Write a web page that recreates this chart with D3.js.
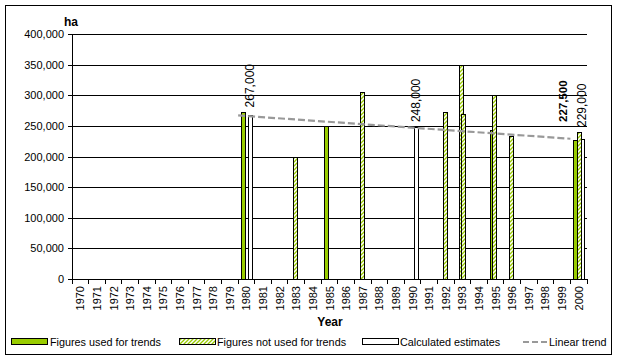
<!DOCTYPE html>
<html><head><meta charset="utf-8">
<script src="https://cdn.jsdelivr.net/npm/d3@7"></script>
<style>
body{margin:0;background:#fff;}
text{font-family:"Liberation Sans",Arial,sans-serif;}
</style></head>
<body><svg id="c" width="618" height="360"></svg>
<script>
const years = d3.range(1970, 2001);
const yTicks = [0,50000,100000,150000,200000,250000,300000,350000,400000];
// Figures used for trends
const usedYears = [1980, 1985, 1995, 2000];
const usedValues = [272000, 250000, 243000, 227500];
// Figures not used for trends (first source)
const notUsedAYears = [1983, 1987, 1992, 1993, 1995, 1996];
const notUsedAValues = [200000, 305000, 272000, 350000, 300000, 233000];
// Figures not used for trends (second source)
const notUsedBYears = [1993, 2000];
const notUsedBValues = [270000, 240000];
// Calculated estimates
const estYears = [1980, 1990, 2000];
const estValues = [267000, 248000, 229000];
// Linear trend
const trendYears = [1980, 2000];
const trendValues = [267000, 229000];
const legendLabels = ["Figures used for trends","Figures not used for trends","Calculated estimates","Linear trend"];

const svg = d3.select("#c");
const L=72, R=587, T=34, B=279;
const green="#99CC00";

const defs = svg.append("defs");
const pat = defs.append("pattern").attr("id","hatch").attr("patternUnits","userSpaceOnUse")
  .attr("width",4).attr("height",4);
pat.append("rect").attr("width",4).attr("height",4).attr("fill","#fff");
pat.append("path").attr("d","M-1,1 l2,-2 M0,4 l4,-4 M3,5 l2,-2").attr("stroke",green).attr("stroke-width",1.3);

svg.append("rect").attr("x",5.5).attr("y",5.5).attr("width",606).attr("height",349)
  .attr("fill","#fff").attr("stroke","#000");

const x = d3.scaleBand().domain(years).range([L,R]).padding(0);
const y = d3.scaleLinear().domain([0,400000]).range([B,T]);
const bw = x.bandwidth();

// gridlines
svg.append("g").attr("transform",`translate(${L},0)`)
  .call(d3.axisLeft(y).tickValues(yTicks).tickSize(-(R-L)).tickFormat(""))
  .call(g=>{g.select(".domain").remove(); g.selectAll("line").attr("stroke","#000").attr("shape-rendering","crispEdges");});

// y axis
svg.append("g").attr("transform",`translate(${L},0)`)
  .call(d3.axisLeft(y).tickValues(yTicks).tickSize(4).tickPadding(4).tickFormat(d3.format(",")))
  .call(g=>{g.select(".domain").attr("shape-rendering","crispEdges");
    g.selectAll("line").attr("shape-rendering","crispEdges");
    g.selectAll("text").attr("font-size",11).attr("font-family","Liberation Sans, Arial").attr("fill","#000");});

// x axis line + ticks at band edges
svg.append("line").attr("x1",L).attr("x2",R).attr("y1",y(0)).attr("y2",y(0)).attr("stroke","#000").attr("shape-rendering","crispEdges");
svg.append("g").selectAll("line").data(years.concat([2001])).join("line")
  .attr("x1",d=>d===2001?R:x(d)).attr("x2",d=>d===2001?R:x(d))
  .attr("y1",y(0)).attr("y2",y(0)+5).attr("stroke","#000").attr("shape-rendering","crispEdges");
svg.append("g").selectAll("text").data(years).join("text")
  .attr("transform",d=>`translate(${x(d)+bw/2+4},${y(0)+7}) rotate(-90)`)
  .attr("text-anchor","end").attr("font-size",11).text(d=>d);

function series(yrs, vals, offFrac, fill){
  svg.append("g").selectAll("rect").data(yrs.map((d,i)=>({yr:d,v:vals[i]}))).join("rect")
    .attr("x",d=>Math.round(x(d.yr)+bw*offFrac)+0.5).attr("width",4)
    .attr("y",d=>Math.round(y(d.v))+0.5).attr("height",d=>Math.round(y(0))-Math.round(y(d.v)))
    .attr("fill",fill).attr("stroke","#000").attr("stroke-width",1);
}
series(estYears, estValues, 0.60, "#fff");
series(usedYears, usedValues, 0.16, green);
series(notUsedAYears, notUsedAValues, 0.31, "url(#hatch)");
series(notUsedBYears, notUsedBValues, 0.40, "url(#hatch)");

// trend line
svg.append("path").datum(trendYears.map((d,i)=>[x(d),y(trendValues[i])]))
  .attr("d",d3.line()).attr("stroke","#999").attr("stroke-width",2.2)
  .attr("stroke-dasharray","7,3").attr("fill","none");

// value labels
function maxAt(yr){
  const all=[[usedYears,usedValues],[notUsedAYears,notUsedAValues],[notUsedBYears,notUsedBValues],[estYears,estValues]];
  let m=0; all.forEach(([ys,vs])=>{const i=ys.indexOf(yr); if(i>=0) m=Math.max(m,vs[i]);}); return m;
}
const fmt=d3.format(",");
svg.append("g").selectAll("text").data(estYears.map((d,i)=>({yr:d,v:estValues[i]}))).join("text")
  .attr("transform",d=>`translate(${x(d.yr)+bw*0.60+2+4},${y(maxAt(d.yr))-5}) rotate(-90)`)
  .attr("font-size",12).text(d=>fmt(d.v));
const lastUsed = usedYears.length-1;
svg.append("text")
  .attr("transform",`translate(${x(usedYears[lastUsed])+bw*0.16+2-12+4},${y(maxAt(usedYears[lastUsed]))-10}) rotate(-90)`)
  .attr("font-size",11.5).attr("font-weight","bold").text(fmt(usedValues[lastUsed]));

// axis titles
svg.append("text").attr("x",64).attr("y",26).attr("font-size",12).attr("font-weight","bold").text("ha");
svg.append("text").attr("x",330).attr("y",326).attr("text-anchor","middle").attr("font-size",12).attr("font-weight","bold").text("Year");

// legend
const lg = svg.append("g");
const ly = 342;
const items = [
  {sx:11, tx:50, kind:"used"},
  {sx:179, tx:217, kind:"notused"},
  {sx:362, tx:400, kind:"est"},
  {sx:523, tx:549, kind:"trend"}
];
items.forEach((it,i)=>{
  if(it.kind==="trend"){
    lg.append("line").attr("x1",it.sx).attr("x2",it.sx+24).attr("y1",ly).attr("y2",ly)
      .attr("stroke","#999").attr("stroke-width",2.2).attr("stroke-dasharray","6,3");
  } else {
    lg.append("rect").attr("x",it.sx+0.5).attr("y",ly-3.5).attr("width",36).attr("height",6)
      .attr("stroke","#000").attr("fill",it.kind==="used"?green:it.kind==="notused"?"url(#hatch)":"#fff");
  }
  lg.append("text").attr("x",it.tx).attr("y",ly+4).attr("font-size",10.8).text(legendLabels[i]);
});
</script></body></html>
